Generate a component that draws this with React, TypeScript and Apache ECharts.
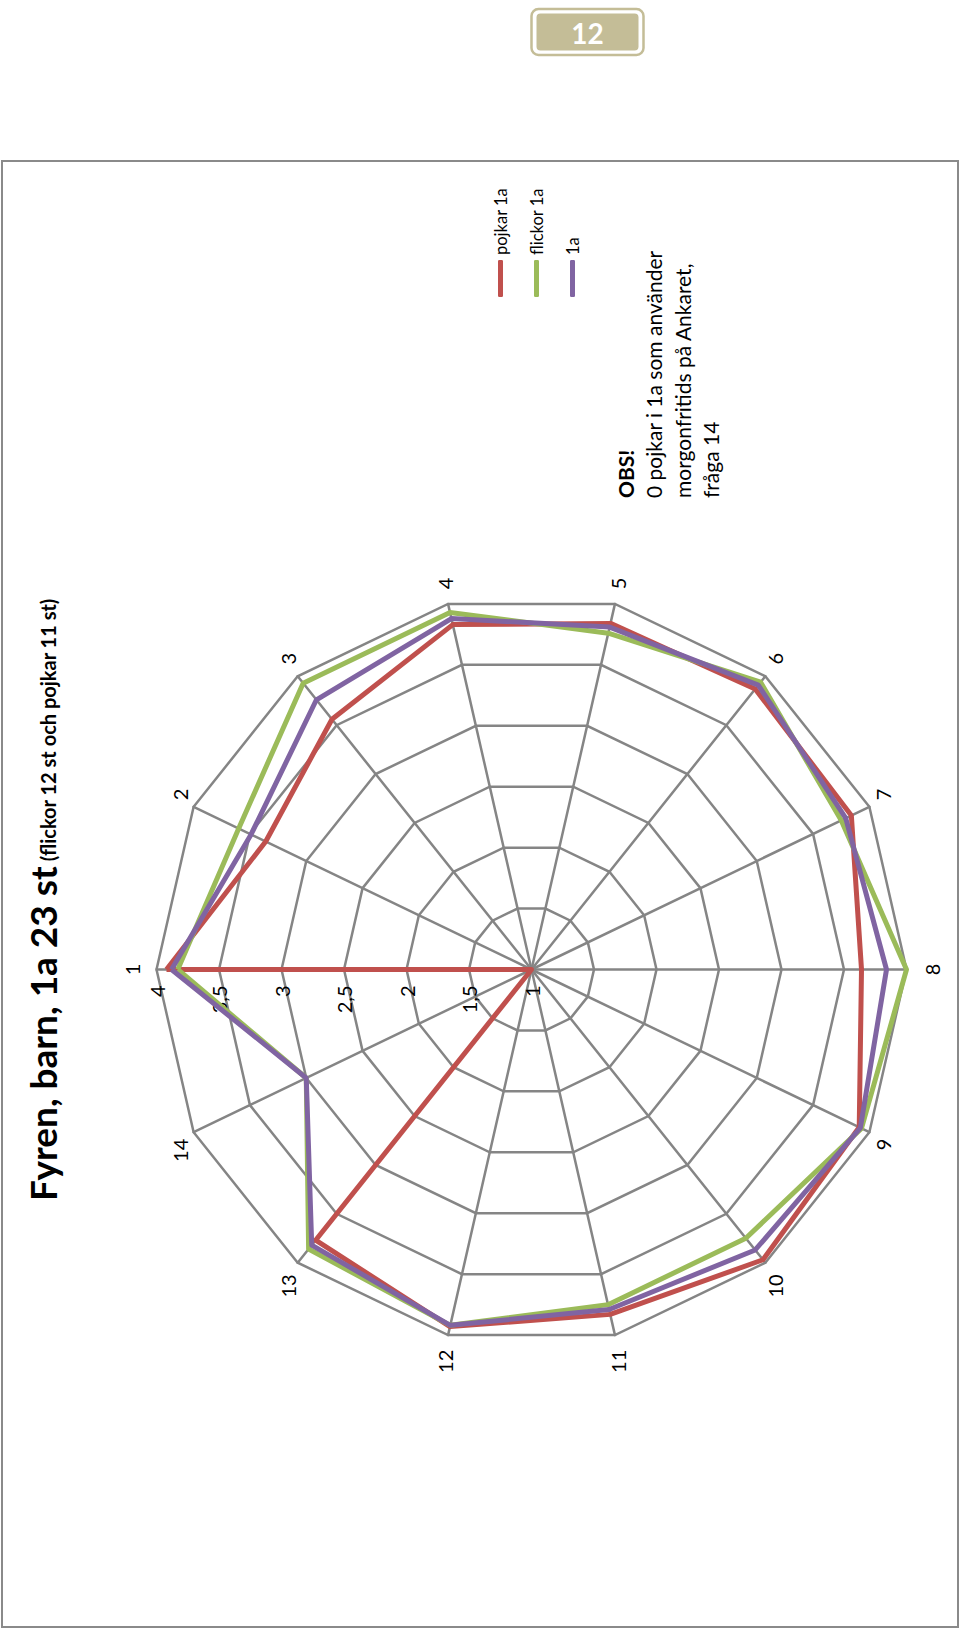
import React, { useEffect, useRef } from 'react';
import * as echarts from 'echarts';

// ---- data ----
const indicatorNames = ['1', '2', '3', '4', '5', '6', '7', '8', '9', '10', '11', '12', '13', '14'];
const seriesNames = ['pojkar 1a', 'flickor 1a', '1a'];
const pojkar = [3.92, 3.36, 3.56, 3.83, 3.84, 3.87, 3.84, 3.64, 3.91, 3.97, 3.83, 3.93, 3.77, 1];
const flickor = [3.83, 3.6, 3.93, 3.93, 3.76, 3.94, 3.75, 4.0, 3.93, 3.75, 3.75, 3.92, 3.86, 3.0];
const klass = [3.88, 3.49, 3.76, 3.88, 3.81, 3.91, 3.79, 3.84, 3.92, 3.87, 3.79, 3.92, 3.82, 3.0];
const axisMin = 1;
const axisMax = 4;
const axisSplits = 6;
const colors = ['#C0504D', '#9BBB59', '#8064A2'];
const pageNumber = '12';
const titleMain = 'Fyren, barn, 1a 23 st';
const titleSub = '(flickor 12 st och pojkar 11 st)';
const noteLines = ['0 pojkar i 1a som använder', 'morgonfritids på Ankaret,', 'fråga 14'];

const FONT = 'Lato, "Open Sans", sans-serif';

// indicators run clockwise in the picture; ECharts runs counter-clockwise
const order = [0, ...indicatorNames.map((_, i) => i).slice(1).reverse()];
const reorder = (arr: number[]) => order.map((i) => arr[i]);

function buildOption(): any {
  const allSeries = [pojkar, flickor, klass];
  return {
    animation: false,
    backgroundColor: '#ffffff',
    title: {
      text: `{a|${titleMain}} {b|${titleSub}}`,
      left: 426,
      top: 14,
      textStyle: {
        rich: {
          a: { fontSize: 37, fontWeight: 'bold', fontFamily: FONT, color: '#000', lineHeight: 42, verticalAlign: 'bottom' },
          b: { fontSize: 20, fontWeight: 'bold', fontFamily: FONT, color: '#000', lineHeight: 26, verticalAlign: 'bottom', padding: [0, 0, 3, 0] },
        },
      },
    },
    legend: {
      orient: 'vertical',
      left: 1330,
      top: 487,
      itemWidth: 37,
      itemHeight: 5,
      itemGap: 19,
      icon: 'roundRect',
      data: seriesNames,
      textStyle: { fontSize: 16.5, fontFamily: FONT, color: '#000' },
    },
    radar: {
      center: [662.5, 531.5],
      radius: 375,
      startAngle: 90,
      shape: 'polygon',
      splitNumber: axisSplits,
      nameGap: 15,
      axisName: { color: '#000', fontSize: 20, fontFamily: FONT },
      indicator: order.map((i) => ({
        name: indicatorNames[i],
        min: axisMin,
        max: axisMax,
        axisLabel: { show: i === 0 },
      })),
      splitLine: { lineStyle: { color: '#858585', width: 2.5 } },
      splitArea: { show: false },
      axisLine: { lineStyle: { color: '#858585', width: 2.5 } },
      axisTick: { show: false },
      axisLabel: {
        show: false,
        margin: 16,
        color: '#000',
        fontSize: 20,
        fontFamily: FONT,
        formatter: (v: number) => String(v).replace('.', ','),
      },
    },
    series: allSeries.map((arr, k) => ({
      type: 'radar',
      name: seriesNames[k],
      symbol: 'none',
      lineStyle: { color: colors[k], width: 5 },
      itemStyle: { color: colors[k] },
      data: [{ name: seriesNames[k], value: reorder(arr) }],
      z: 2 + k,
    })),
    graphic: [
      {
        type: 'rect',
        silent: true,
        z: -10,
        shape: { x: 5, y: 2, width: 1466, height: 956 },
        style: { fill: 'none', stroke: '#8a8a8a', lineWidth: 2 },
      },
      {
        type: 'group',
        x: 1600,
        y: 587.5,
        rotation: -Math.PI / 2,
        children: [
          {
            type: 'rect',
            shape: { x: -56, y: -23, width: 112, height: 46, r: 7 },
            style: { fill: 'none', stroke: '#C4BD97', lineWidth: 2.5 },
          },
          {
            type: 'rect',
            shape: { x: -51, y: -18.5, width: 102, height: 37, r: 4 },
            style: { fill: '#C4BD97' },
          },
          {
            type: 'text',
            x: 0,
            y: 1,
            style: {
              text: pageNumber,
              align: 'center',
              verticalAlign: 'middle',
              fill: '#ffffff',
              fontSize: 28,
              fontWeight: 'bold',
              fontFamily: FONT,
            },
          },
        ],
      },
      {
        type: 'text',
        x: 1134,
        y: 611.5,
        style: {
          text: ['{b|OBS!}', ...noteLines].join('\n'),
          fontSize: 21,
          lineHeight: 28.3,
          fontFamily: FONT,
          fill: '#000',
          rich: {
            b: { fontSize: 21, fontWeight: 'bold', lineHeight: 28.3, fontFamily: FONT, fill: '#000' },
          },
        },
      },
    ],
  };
}

export default function App() {
  const ref = useRef<HTMLDivElement>(null);
  useEffect(() => {
    if (!ref.current) return;
    const chart = echarts.init(ref.current, null, { renderer: 'svg' });
    chart.setOption(buildOption());
    return () => chart.dispose();
  }, []);
  return (
    <div
      style={{
        position: 'absolute',
        left: 0,
        top: 0,
        width: 960,
        height: 1632,
        overflow: 'hidden',
        background: '#fff',
      }}
    >
      <div
        ref={ref}
        style={{
          position: 'absolute',
          left: 0,
          top: 0,
          width: 1632,
          height: 960,
          transformOrigin: '0 0',
          transform: 'translateY(1632px) rotate(-90deg)',
        }}
      />
    </div>
  );
}
